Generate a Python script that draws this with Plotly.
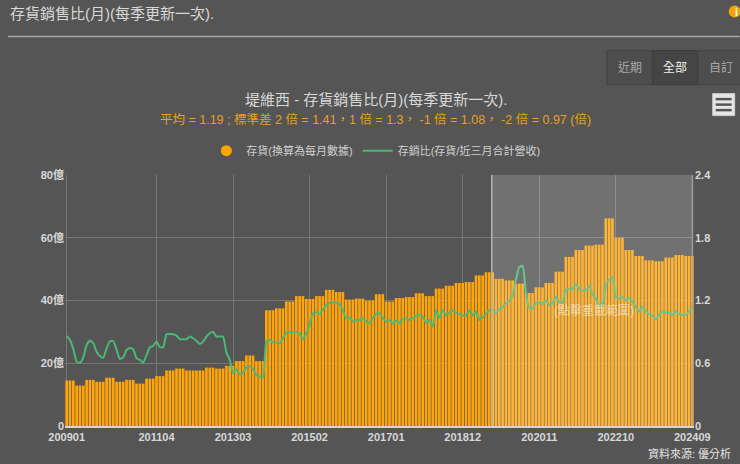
import plotly.graph_objects as go
import pandas as pd

W, H = 740, 464
L, R, T, B = 65.0, 694.3, 175.3, 426.0

months = [p.strftime("%Y%m") for p in pd.period_range("2009-01", "2024-09", freq="M")]
tick_months = ["200901", "201104", "201303", "201502", "201701", "201812", "202011", "202210", "202409"]
left_ticks = [0, 20, 40, 60, 80]
left_labels = ["0", "20億", "40億", "60億", "80億"]
right_ticks = [0, 0.6, 1.2, 1.8, 2.4]
right_labels = ["0", "0.6", "1.2", "1.8", "2.4"]

# inventory is reported once per quarter and shown on each of its three months
inventory_by_quarter = [
    14.5, 12.9, 14.7, 14.1, 15.4, 14.1, 14.7, 13.5, 15.1, 15.9,
    17.7, 18.3, 17.7, 17.7, 18.6, 18.3, 19.2, 20.7, 22.5, 20.7,
    36.9, 37.5, 39.7, 41.4, 40.5, 41.4, 43.4, 42.7, 40.3, 40.6,
    40.0, 42.0, 39.7, 40.8, 41.1, 42.3, 41.4, 43.8, 44.7, 45.6,
    45.9, 48.0, 49.0, 46.9, 46.4, 45.4, 42.4, 44.2, 45.6, 49.2,
    53.9, 56.1, 57.5, 57.8, 66.2, 60.0, 56.1, 54.2, 52.8, 52.5,
    53.7, 54.5, 54.2,
]
inventory = [v for v in inventory_by_quarter for _ in range(3)]

ratio = [
    0.861, 0.823, 0.734, 0.616, 0.606, 0.657, 0.775, 0.817, 0.791, 0.711,
    0.670, 0.654, 0.743, 0.810, 0.813, 0.727, 0.641, 0.657, 0.727, 0.746,
    0.734, 0.648, 0.632, 0.606, 0.679, 0.753, 0.766, 0.807, 0.753, 0.753,
    0.877, 0.880, 0.877, 0.864, 0.830, 0.830, 0.830, 0.855, 0.839, 0.813,
    0.785, 0.807, 0.855, 0.887, 0.900, 0.855, 0.855, 0.855, 0.702, 0.632,
    0.504, 0.542, 0.495, 0.510, 0.561, 0.568, 0.542, 0.488, 0.472, 0.462,
    0.810, 0.823, 0.801, 0.797, 0.791, 0.839, 0.893, 0.902, 0.897, 0.900,
    0.887, 0.830, 0.887, 0.967, 1.078, 1.088, 1.072, 1.110, 1.158, 1.174,
    1.180, 1.180, 1.165, 1.110, 1.031, 1.037, 0.998, 1.014, 1.014, 1.031,
    0.998, 0.983, 1.031, 1.072, 1.078, 1.031, 0.998, 1.014, 0.976, 1.008,
    0.983, 1.021, 1.031, 1.014, 1.031, 1.056, 1.062, 1.046, 0.989, 1.014,
    0.950, 1.104, 1.031, 1.110, 1.062, 1.085, 1.104, 1.085, 1.072, 1.056,
    1.056, 1.104, 1.056, 1.094, 1.014, 1.040, 1.072, 1.107, 1.110, 1.078,
    1.117, 1.136, 1.174, 1.196, 1.254, 1.397, 1.518, 1.531, 1.270, 1.126,
    1.126, 1.174, 1.180, 1.167, 1.199, 1.158, 1.174, 1.237, 1.184, 1.180,
    1.301, 1.308, 1.311, 1.356, 1.311, 1.295, 1.301, 1.340, 1.254, 1.222,
    1.158, 1.158, 1.349, 1.397, 1.423, 1.237, 1.215, 1.232, 1.206, 1.225,
    1.190, 1.142, 1.094, 1.142, 1.094, 1.072, 1.053, 1.021, 1.062, 1.094,
    1.085, 1.085, 1.062, 1.094, 1.072, 1.062, 1.062, 1.094, 1.142,
]

FONT = "Liberation Sans, Noto Sans CJK TC, sans-serif"
BG = "#555555"
LIGHT = "#d8d8d8"
ORANGE = "#f5a30a"


def px(x):
    return (x - L) / (R - L)


def py(y):
    return (B - y) / (B - T)


fig = go.Figure()
fig.add_trace(go.Bar(
    x=months, y=inventory, yaxis="y", name="存貨(換算為每月數據)",
    marker=dict(color="#ffa50a", line=dict(width=0)), showlegend=False,
))
fig.add_trace(go.Scatter(
    x=[months[0]], y=[None], mode="markers", name="存貨(換算為每月數據)",
    marker=dict(color="#ffa500", size=11, symbol="circle"),
))
fig.add_trace(go.Scatter(
    x=months, y=ratio, yaxis="y2", mode="lines", name="存銷比(存貨/近三月合計營收)",
    line=dict(color="#4cb878", width=2, shape="spline", smoothing=0.5),
))


def rect(x0, y0, x1, y1, **kw):
    return dict(type="rect", xref="paper", yref="paper", x0=px(x0), x1=px(x1), y0=py(y1), y1=py(y0), **kw)


def hline(x0, x1, y, color, width=1):
    return dict(type="line", xref="paper", yref="paper", x0=px(x0), x1=px(x1), y0=py(y), y1=py(y),
                line=dict(color=color, width=width))


def vline(x, y0, y1, color, width=1):
    return dict(type="line", xref="paper", yref="paper", x0=px(x), x1=px(x), y0=py(y0), y1=py(y1),
                line=dict(color=color, width=width))


shapes = [
    hline(8, 740, 37, "#a8a8a8", 1.5),
    rect(607, 51, 741, 85, fillcolor="#4d4d4d", line=dict(color="#444444", width=1), layer="below"),
    rect(653, 51, 698, 85, fillcolor="#454545", line=dict(color="#3d3d3d", width=1), layer="below"),
    dict(type="circle", xref="paper", yref="paper", x0=px(729), x1=px(741), y0=py(18), y1=py(6),
         fillcolor="#f5a30a", line=dict(width=0)),
    rect(713, 94, 735, 116, fillcolor="#e6e6e6", line=dict(color="#cccccc", width=1)),
    hline(716, 732, 99.5, "#555555", 2.5),
    hline(716, 732, 105, "#555555", 2.5),
    hline(716, 732, 110.5, "#555555", 2.5),
    rect(492, T, R - 0.5, B, fillcolor="rgba(255,255,255,0.17)", line=dict(width=0), layer="above"),
    vline(492, T, B, "#b5b5b5", 1.5),
    vline(692.5, T, B, "#a0a0a0", 1),
]


def note(x, y, text, size=12, color=LIGHT, anchor="center", bold=False):
    return dict(xref="paper", yref="paper", x=px(x), y=py(y), text=f"<b>{text}</b>" if bold else text,
                showarrow=False, xanchor=anchor, yanchor="middle",
                font=dict(family=FONT, size=size, color=color))


annotations = [
    note(8, 14, "存貨銷售比(月)(每季更新一次).", 15, LIGHT, "left"),
    note(737, 12, "i", 11, "#ffffff", "center", True),
    note(630, 68, "近期", 12, "#a8a8a8"),
    note(675.5, 68, "全部", 12, "#f0f0f0"),
    note(721, 68, "自訂", 12, "#a8a8a8"),
    note(376, 100, "堤維西 - 存貨銷售比(月)(每季更新一次).", 15, LIGHT),
    note(376, 120, "平均 = 1.19 ; 標準差 2 倍 = 1.41，1 倍 = 1.3， -1 倍 = 1.08， -2 倍 = 0.97 (倍)", 12.5, "#e8a020"),
    note(594, 311, "(點擊重載範圍)", 12, "rgba(255,255,255,0.55)"),
    note(733, 453, "資料來源: 優分析", 11, "#e4e4e4", "right"),
]

fig.update_layout(
    width=W, height=H,
    margin=dict(l=L, r=W - R, t=T, b=H - B, pad=0, autoexpand=False),
    paper_bgcolor=BG, plot_bgcolor=BG,
    bargap=0.2, showlegend=True,
    font=dict(family=FONT, color=LIGHT),
    legend=dict(orientation="h", x=px(376), xanchor="center", y=py(151), yanchor="middle",
                bgcolor="rgba(0,0,0,0)", font=dict(family=FONT, size=11, color="#d0d0d0"),
                itemclick=False, itemdoubleclick=False),
    xaxis=dict(type="category", categoryorder="array", categoryarray=months, range=[-0.5, 188.5],
               tickmode="array", tickvals=tick_months, ticktext=tick_months,
               showgrid=True, gridcolor="#777777", gridwidth=1,
               showline=True, linecolor="#d5d5d5", linewidth=1.5, ticks="", zeroline=False,
               tickfont=dict(family=FONT, size=11, color="#d8d8d8", weight="bold"), tickangle=0),
    yaxis=dict(range=[0, 80], tickmode="array", tickvals=left_ticks, ticktext=left_labels,
               showgrid=True, gridcolor="#777777", gridwidth=1, zeroline=False, ticks="",
               tickfont=dict(family=FONT, size=11, color="#d8d8d8", weight="bold")),
    yaxis2=dict(range=[0, 2.4], overlaying="y", side="right", tickmode="array", tickvals=right_ticks,
                ticktext=right_labels, showgrid=False, zeroline=False, ticks="",
                tickfont=dict(family=FONT, size=11, color="#d8d8d8", weight="bold")),
    shapes=shapes, annotations=annotations, hovermode="x",
)

fig.write_html(
    "out.html",
    config=dict(displayModeBar=False),
    post_script="document.body.style.margin='0';document.body.style.background='#555555';",
)
